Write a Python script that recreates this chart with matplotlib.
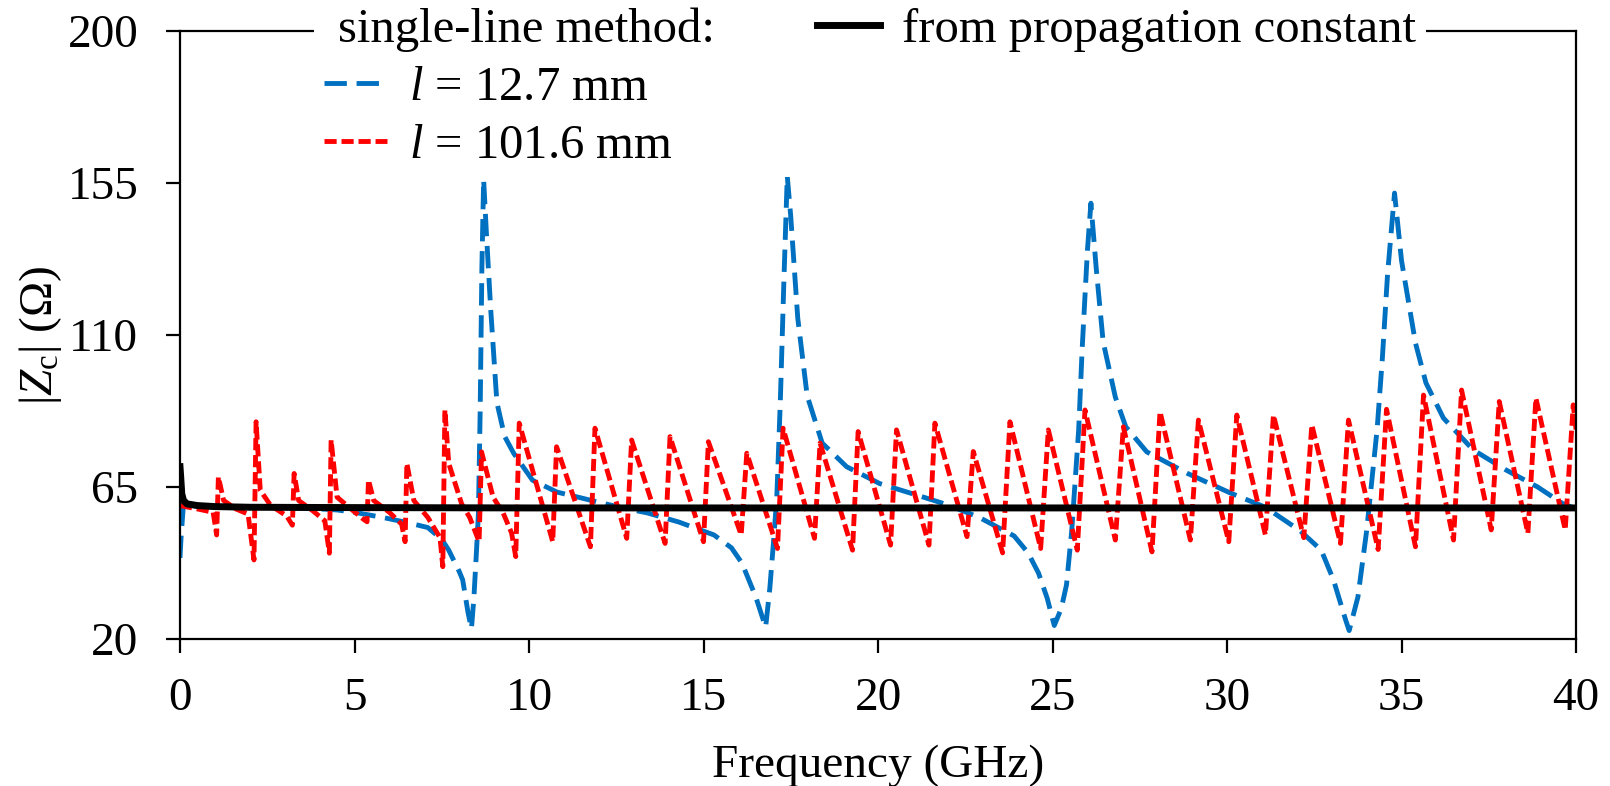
import matplotlib.pyplot as plt
from matplotlib.lines import Line2D

plt.rcParams['font.family'] = 'Liberation Serif'
plt.rcParams['mathtext.fontset'] = 'custom'
plt.rcParams['mathtext.rm'] = 'Liberation Serif'
plt.rcParams['mathtext.it'] = 'Liberation Serif:italic'

# |Zc| from the single-line method, l = 12.7 mm
blue_f = [0.0, 0.03, 0.1, 0.3, 1.0, 2.0, 3.0, 4.0, 4.5, 5.0, 5.8, 6.5, 7.1, 7.5, 7.7,
          8.0, 8.1, 8.25, 8.35, 8.42, 8.5, 8.55, 8.6, 8.65, 8.7, 8.78, 8.9, 9.08, 9.3,
          9.56, 10.1, 10.8, 11.4, 11.95, 12.6, 13.4, 14.3, 15.3, 15.8, 16.1, 16.5, 16.7,
          16.78, 16.9, 17.0, 17.1, 17.2, 17.3, 17.4, 17.5, 17.7, 17.97, 18.4, 19.1, 20.05,
          21.3, 22.0, 22.9, 23.9, 24.3, 24.6, 24.85, 25.05, 25.25, 25.4, 25.55, 25.75,
          25.85, 26.0, 26.1, 26.25, 26.45, 26.8, 27.1, 27.7, 28.85, 30.1, 31.1, 32.1,
          32.7, 33.05, 33.4, 33.5, 33.75, 34.0, 34.3, 34.45, 34.6, 34.8, 35.0, 35.4,
          35.7, 36.2, 37.05, 38.0, 38.9, 39.6, 40.0]
blue_z = [44, 50, 60, 59.5, 59, 59, 58.8, 58.5, 58.2, 57.5, 56, 54.5, 53, 49.5, 46.3,
          40, 37.5, 28, 23, 32, 47, 57, 87, 130, 156, 140, 118, 90, 80,
          75, 67, 63.5, 62, 60.6, 59, 57.3, 54.6, 50.8, 47, 42.5, 32.4, 26,
          23.5, 35, 48, 62, 90, 125, 157, 145, 115, 92, 78, 71, 66,
          62, 59.7, 56, 50.5, 45.5, 39.5, 32, 24, 29, 36, 52, 82,
          106, 135, 149, 130, 108, 91.6, 82.8, 75.4, 69.1, 63.2, 59, 52,
          46.3, 37.5, 25.6, 22.5, 32.4, 52, 82, 103, 128, 152, 132, 107.6,
          95.8, 85.4, 76, 70, 65, 60.2, 58.5]

# |Zc| from the single-line method, l = 101.6 mm
red_f = [0.0, 0.5, 0.95,
         1.05, 1.10, 1.25, 1.60, 1.95,
         2.12, 2.18, 2.30, 2.60, 3.05,
         3.22, 3.27, 3.40, 3.80, 4.15,
         4.28, 4.33, 4.50, 4.90, 5.25,
         5.36, 5.40, 5.55, 6.00, 6.35,
         6.45, 6.50, 6.70, 7.10, 7.45,
         7.53, 7.59, 7.70, 8.07, 8.30,
         8.57, 8.64, 8.97, 9.26, 9.50,
         9.62, 9.72, 10.68, 10.79, 11.76, 11.89, 12.80, 12.94, 13.90, 14.04,
         15.00, 15.14, 16.08, 16.24, 17.12, 17.28, 18.18, 18.34, 19.27, 19.43,
         20.36, 20.53, 21.46, 21.63, 22.55, 22.73, 23.57, 23.78, 24.66, 24.88,
         25.71, 25.93, 26.80, 27.03, 27.85, 28.08, 28.95, 29.18, 30.05, 30.28,
         31.10, 31.33, 32.20, 32.43, 33.25, 33.48, 34.33, 34.57, 35.40, 35.63,
         36.49, 36.72, 37.57, 37.80, 38.62, 38.85, 39.69, 39.92, 40.0]
red_z = [59.5, 58.5, 57.5,
         50.8, 68.0, 61.0, 58.5, 57.0,
         43.4, 84.3, 64.0, 59.5, 56.5,
         53.7, 69.0, 61.0, 58.0, 55.0,
         45.4, 78.9, 62.0, 58.5, 55.5,
         54.7, 67.1, 61.0, 57.5, 54.0,
         48.8, 72.0, 61.0, 56.0, 50.0,
         41.4, 87.8, 72.0, 60.0, 56.0,
         48.8, 75.4, 62.0, 57.3, 51.4,
         44.4, 83.9, 48.8, 76.9, 47.3, 82.4, 49.8, 78.9, 48.3, 79.9,
         48.8, 78.4, 50.8, 75.0, 46.8, 82.4, 49.8, 78.0, 46.3, 81.4,
         47.8, 81.9, 47.8, 83.9, 50.3, 75.5, 45.5, 84.3, 46.8, 81.9,
         46.3, 87.8, 49.3, 82.8, 45.8, 87.3, 49.3, 84.8, 48.8, 86.3,
         50.8, 86.3, 50.0, 83.4, 48.3, 84.8, 46.5, 88.0, 47.3, 92.2,
         49.3, 93.7, 52.3, 90.3, 51.3, 91.3, 52.3, 89.3, 82.0]

# |Zc| from the propagation constant
black_f = [0.0, 0.02, 0.05, 0.1, 0.2, 0.5, 1, 2, 5, 10, 20, 30, 40]
black_z = [71, 68, 63, 61, 60, 59.5, 59.2, 59, 58.9, 58.8, 58.8, 58.8, 58.8]

x_ticks = [0, 5, 10, 15, 20, 25, 30, 35, 40]
y_ticks = [20, 65, 110, 155, 200]

fig = plt.figure(figsize=(16.1, 7.86), dpi=100)
ax = fig.add_axes([0.1118, 0.187, 0.8671, 0.7737])

l_blue, = ax.plot(blue_f, blue_z, color='#0070C0', lw=3.5, dashes=(4.6, 2.0))
l_red, = ax.plot(red_f, red_z, color='#FF0000', lw=3.5, dashes=(2.5, 1.0))
l_black, = ax.plot(black_f, black_z, color='black', lw=5)

ax.set_xlim(0, 40)
ax.set_ylim(20, 200)
ax.set_xticks(x_ticks)
ax.set_yticks(y_ticks)
ax.tick_params(direction='out', length=10, width=1.6, labelsize=34)
ax.tick_params(axis='x', pad=18)
ax.tick_params(axis='y', pad=20)
for s in ax.spines.values():
    s.set_linewidth(1.6)

ax.set_xlabel('Frequency (GHz)', fontsize=34, labelpad=17)
ax.set_ylabel(r'$|Z_\mathrm{c}|$ (Ω)', fontsize=34)
ax.yaxis.set_label_coords(-0.083, 0.5)

blank1 = Line2D([], [], linestyle='none')
blank2 = Line2D([], [], linestyle='none')
blank3 = Line2D([], [], linestyle='none')
handles = [blank1, l_blue, l_red, l_black, blank2, blank3]
labels = ['single-line method:', r'$l$ = 12.7 mm', r'$l$ = 101.6 mm',
          'from propagation constant', '', '']
leg = ax.legend(handles, labels, ncol=2, loc='upper left',
                bbox_to_anchor=(0.096, 1.054), fontsize=35, frameon=True,
                framealpha=1, edgecolor='none', facecolor='white', fancybox=False,
                borderpad=0.2, handlelength=1.3, handletextpad=0.45,
                labelspacing=0.28, columnspacing=2.1, borderaxespad=0)

# first entry is a heading: keep only a small indent instead of a handle
col1 = leg._legend_handle_box.get_children()[0]
first = col1.get_children()[0]
first.get_children()[0].width = 10
first.sep = 0

fig.savefig('out.png', dpi=100)
